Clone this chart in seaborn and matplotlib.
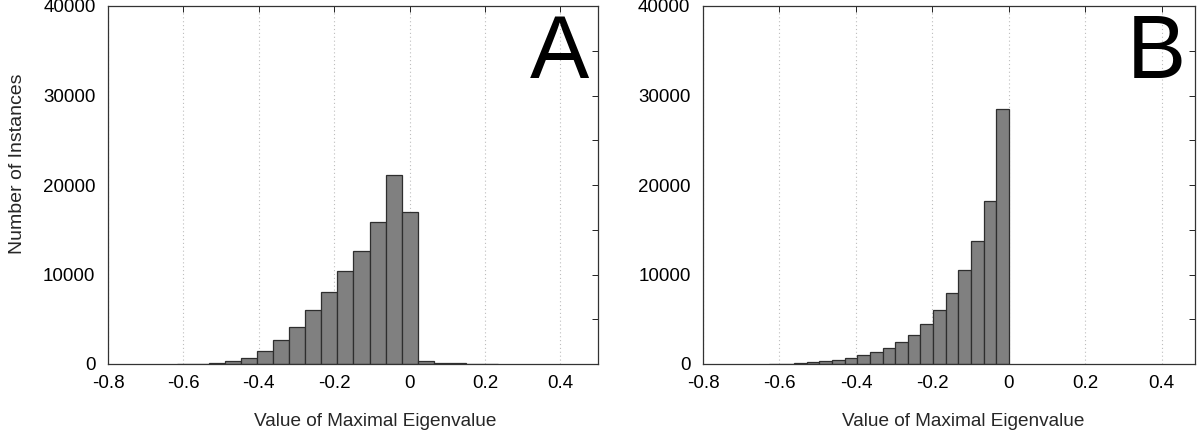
import numpy as np
import pandas as pd
import matplotlib
matplotlib.use("Agg")
import matplotlib.pyplot as plt
import seaborn as sns

# histogram A: bin centres and counts (bins centred on 0)
a_centres = [-0.596, -0.554, -0.511, -0.468, -0.426, -0.383, -0.341, -0.298, -0.256, -0.213,
             -0.170, -0.128, -0.085, -0.043, 0.0, 0.043, 0.085, 0.128, 0.170, 0.213]
a_counts = [10, 30, 113, 340, 714, 1466, 2670, 4174, 5980, 8010,
            10340, 12630, 15900, 21170, 16960, 300, 113, 75, 40, 15]

# histogram B: bins end at 0
b_centres = [-0.611, -0.578, -0.545, -0.512, -0.479, -0.446, -0.413, -0.380, -0.347, -0.314,
             -0.281, -0.248, -0.215, -0.182, -0.149, -0.116, -0.083, -0.050, -0.017]
b_counts = [15, 38, 113, 226, 338, 489, 677, 1015, 1354, 1805,
            2406, 3270, 4474, 5980, 7900, 10530, 13780, 18180, 28450]

x_ticks = [-0.8, -0.6, -0.4, -0.2, 0, 0.2, 0.4]
x_ticklabels = ["-0.8", "-0.6", "-0.4", "-0.2", "0", "0.2", "0.4"]
y_ticks = [0, 10000, 20000, 30000, 40000]

sns.set_theme(style="white")
plt.rcParams['font.family'] = ['Liberation Sans', 'DejaVu Sans']

fig = plt.figure(figsize=(12, 4.34), dpi=100)
ax_a = fig.add_axes([108 / 1200, 1 - 364 / 434, 490 / 1200, 358 / 434])
ax_b = fig.add_axes([703 / 1200, 1 - 364 / 434, 492 / 1200, 358 / 434])

panels = [
    (ax_a, a_centres, a_counts, "A", 0.5, 0.545),
    (ax_b, b_centres, b_counts, "B", 0.487, 0.528),
]

for ax, centres, counts, letter, xmax, xlab_pos in panels:
    df = pd.DataFrame({"value": centres, "count": counts})
    w = float(np.diff(centres).mean())
    lo, hi = centres[0] - w / 2, centres[-1] + w / 2
    sns.histplot(data=df, x="value", weights="count", binwidth=w, binrange=(lo, hi + w * 0.01),
                 ax=ax, color="#808080", edgecolor="#2e2e2e", linewidth=0.9, alpha=1.0)
    ax.set_xlim(-0.8, xmax)
    ax.set_ylim(0, 40000)
    ax.set_xticks(x_ticks)
    ax.set_xticklabels(x_ticklabels)
    ax.set_yticks(y_ticks)
    ax.set_yticks([5000, 15000, 25000, 35000], minor=True)
    ax.tick_params(axis='both', which='both', direction='in', top=True, right=True,
                   labelsize=13.5, colors="#222222", labelcolor="black")
    ax.tick_params(axis='x', pad=8)
    ax.tick_params(axis='y', pad=9)
    ax.tick_params(which='major', length=4, width=0.7)
    ax.tick_params(which='minor', length=4, width=0.7)
    ax.grid(False)
    for x in x_ticks:
        ax.axvline(x, color="#bdbdbd", linestyle=(0, (1, 2.5)), linewidth=0.8, zorder=0)
    for s in ax.spines.values():
        s.set_color("#333333")
        s.set_linewidth(0.9)
    ax.set_xlabel("Value of Maximal Eigenvalue", fontsize=13.7)
    ax.xaxis.set_label_coords(xlab_pos, -0.138)
    ax.set_ylabel("")
    ax.text(0.982, 0.80, letter, transform=ax.transAxes, ha="right", va="baseline",
            fontsize=64, color="black")

ax_a.set_ylabel("Number of Instances", fontsize=14)
ax_a.yaxis.set_label_coords(-0.168, 0.56)

fig.savefig("out.png", dpi=100)
